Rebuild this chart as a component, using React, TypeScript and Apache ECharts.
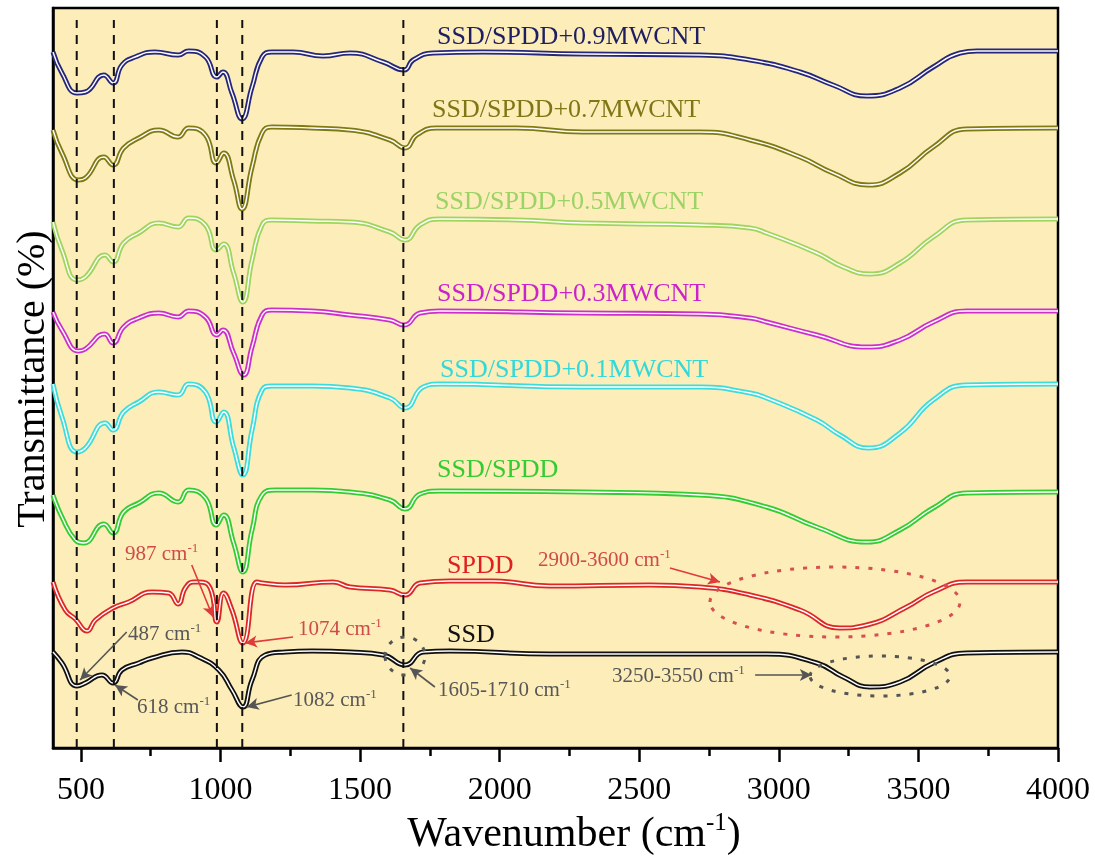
import React, { useEffect, useRef } from "react";
import * as echarts from "echarts";

const SERIF = "Liberation Serif";

// x axis ticks (wavenumber, cm-1)
const MAJOR_TICKS = [500, 1000, 1500, 2000, 2500, 3000, 3500, 4000];
const MINOR_TICKS = [750, 1250, 1750, 2250, 2750, 3250, 3750];

// vertical reference lines (cm-1)
const DASH_POSITIONS = [485, 618, 987, 1078, 1655];

// spectra: [wavenumber, offset transmittance (a.u.)]
const SSD_09: [number, number][] = [[400,696],[432,675],[486,655],[516,656],[582,673],[615,665],[647,683],[694,691],[765,696],[848,693],[886,697],[946,691],[987,671],[1008,676],[1041,655],[1077,629],[1113,661],[1149,691],[1184,696],[1260,696],[1367,692],[1464,695],[1583,686],[1658,678],[1690,688],[1761,695],[1940,696],[2298,694],[2718,693],[2897,688],[3076,676],[3194,663],[3315,652],[3434,660],[3553,681],[3649,695],[3709,697],[4000,697]];
const SSD_07: [number, number][] = [[400,618],[432,595],[492,568],[516,570],[582,591],[615,583],[653,600],[707,610],[779,618],[848,611],[886,620],[946,613],[985,585],[1011,595],[1047,568],[1077,539],[1113,581],[1149,615],[1184,621],[1328,620],[1464,618],[1607,608],[1661,600],[1703,613],[1774,620],[2061,620],[2298,616],[2718,616],[2897,608],[3076,591],[3194,575],[3320,563],[3434,575],[3553,601],[3673,619],[4000,620]];
const SSD_05: [number, number][] = [[400,526],[432,498],[486,468],[516,471],[587,493],[615,486],[653,505],[707,515],[779,525],[848,521],[886,530],[946,523],[985,498],[1011,504],[1047,475],[1080,446],[1113,488],[1149,523],[1184,528],[1328,527],[1464,526],[1607,516],[1661,508],[1715,523],[1786,529],[2061,528],[2298,525],[2718,523],[2897,520],[2956,515],[3136,495],[3231,481],[3326,474],[3434,485],[3553,511],[3673,528],[4000,529]];
const SSD_03: [number, number][] = [[400,436],[432,418],[492,397],[516,399],[585,414],[615,405],[653,421],[707,430],[779,435],[848,431],[886,437],[946,431],[987,413],[1008,418],[1047,395],[1083,373],[1113,401],[1149,433],[1184,438],[1328,437],[1464,433],[1607,428],[1658,423],[1715,435],[1786,437],[2298,435],[2718,434],[2897,430],[2956,426],[3136,413],[3315,401],[3434,408],[3553,426],[3673,437],[4000,437]];
const SSD_01: [number, number][] = [[400,364],[432,331],[486,296],[516,300],[587,325],[615,318],[653,336],[707,346],[779,356],[848,353],[886,364],[946,356],[985,326],[1011,336],[1047,301],[1080,273],[1113,318],[1149,358],[1184,362],[1328,362],[1464,360],[1607,350],[1661,340],[1726,361],[1786,364],[2298,361],[2718,361],[2897,355],[2956,350],[3136,328],[3219,313],[3320,300],[3434,315],[3553,348],[3673,363],[4000,364]];
const SSD_SPDD: [number, number][] = [[400,253],[432,231],[480,208],[510,205],[582,224],[615,215],[653,236],[707,245],[779,255],[848,246],[886,258],[946,250],[985,223],[1011,233],[1047,205],[1080,176],[1113,218],[1149,253],[1196,258],[1328,258],[1464,256],[1607,248],[1661,239],[1715,254],[1786,257],[2298,256],[2718,253],[2956,241],[3136,221],[3315,206],[3434,218],[3553,240],[3673,255],[4000,256]];
const SPDD: [number, number][] = [[400,166],[444,138],[480,129],[522,117],[552,128],[615,140],[671,146],[755,156],[814,155],[848,144],[874,160],[903,166],[922,166],[963,160],[987,126],[1011,155],[1041,138],[1080,105],[1130,166],[1149,165],[1232,163],[1403,166],[1464,161],[1607,158],[1661,153],[1715,165],[1822,167],[1976,167],[2180,162],[2538,163],[2718,161],[2897,153],[3076,138],[3219,120],[3315,123],[3458,141],[3553,156],[3673,166],[4000,166]];
const SSD: [number, number][] = [[400,96],[432,85],[486,62],[516,65],[575,73],[615,65],[647,78],[707,85],[755,90],[862,96],[922,91],[994,78],[1041,58],[1080,41],[1113,68],[1160,93],[1232,96],[1328,97],[1464,96],[1583,93],[1661,83],[1726,96],[1822,97],[2180,94],[2658,94],[2956,94],[3136,85],[3231,71],[3326,61],[3434,66],[3553,85],[3673,95],[4000,96]];

const CURVES = [
  { name: "SSD/SPDD+0.9MWCNT", data: SSD_09, color: "#26267a", text: "#1e1e62", lx: 437, ly: 35 },
  { name: "SSD/SPDD+0.7MWCNT", data: SSD_07, color: "#7f7a14", text: "#7d7715", lx: 432, ly: 108 },
  { name: "SSD/SPDD+0.5MWCNT", data: SSD_05, color: "#9fd45e", text: "#9cd266", lx: 435, ly: 200 },
  { name: "SSD/SPDD+0.3MWCNT", data: SSD_03, color: "#cc30cc", text: "#cc22cc", lx: 437, ly: 292 },
  { name: "SSD/SPDD+0.1MWCNT", data: SSD_01, color: "#3cdcdc", text: "#33d8d8", lx: 440, ly: 368 },
  { name: "SSD/SPDD", data: SSD_SPDD, color: "#33cc33", text: "#33cc33", lx: 437, ly: 468 },
  { name: "SPDD", data: SPDD, color: "#dd2626", text: "#e02020", lx: 447, ly: 564 },
  { name: "SSD", data: SSD, color: "#111111", text: "#111111", lx: 447, ly: 633 },
];

// annotation arrows [from, to] in data coordinates
const RED_ARROWS: [number, number][][] = [
  [[897, 183], [973, 131]],
  [[1260, 111], [1088, 105]],
  [[2610, 180], [2789, 166]],
];
const GRAY_ARROWS: [number, number][][] = [
  [[664, 116], [497, 68]],
  [[704, 48], [622, 63]],
  [[1255, 53], [1094, 41]],
  [[1768, 61], [1679, 80]],
  [[2915, 73], [3118, 73]],
];

const RED_NOTE = "#cf4a4a";
const GRAY_NOTE = "#575757";

const NOTES = [
  { t: "987 cm", x: 125, y: 553, c: RED_NOTE },
  { t: "1074 cm", x: 298, y: 628, c: RED_NOTE },
  { t: "2900-3600 cm", x: 538, y: 559, c: RED_NOTE },
  { t: "487 cm", x: 128, y: 633, c: GRAY_NOTE },
  { t: "618 cm", x: 137, y: 706, c: GRAY_NOTE },
  { t: "1082 cm", x: 293, y: 699, c: GRAY_NOTE },
  { t: "1605-1710 cm", x: 438, y: 689, c: GRAY_NOTE },
  { t: "3250-3550 cm", x: 612, y: 675, c: GRAY_NOTE },
];

function supText(x: number, y: number, main: string, tail: string, color: string, size: number, supSize: number, align = "left") {
  return {
    type: "text",
    x,
    y,
    z: 100,
    style: {
      text: `{b|${main}}{s|-1}` + (tail ? `{b|${tail}}` : ""),
      align,
      textAlign: align,
      verticalAlign: "middle",
      textVerticalAlign: "middle",
      fill: color,
      rich: {
        b: { fontSize: size, fontFamily: SERIF, fill: color, color, lineHeight: size * 1.1 },
        s: { fontSize: supSize, fontFamily: SERIF, fill: color, color, verticalAlign: "top", lineHeight: supSize * 1.1 },
      },
    },
  };
}

export default function App() {
  const ref = useRef<HTMLDivElement>(null);
  useEffect(() => {
    if (!ref.current) return;
    const chart = echarts.init(ref.current, undefined, { renderer: "svg" });

    const series: any[] = [];
    CURVES.forEach((c) => {
      series.push({
        type: "line",
        name: c.name,
        data: c.data,
        showSymbol: false,
        smooth: 0.5,
        lineStyle: { color: c.color, width: 5 },
        z: 3,
        silent: true,
      });
      series.push({
        type: "line",
        name: c.name + " inner",
        data: c.data,
        showSymbol: false,
        smooth: 0.5,
        lineStyle: { color: "#ffffff", width: 1.4 },
        z: 3,
        silent: true,
      });
    });
    DASH_POSITIONS.forEach((x) => {
      series.push({
        type: "line",
        data: [[x, 0], [x, 728]],
        showSymbol: false,
        lineStyle: { color: "#111", width: 2, type: [9, 7] },
        z: 4,
        silent: true,
      });
    });
    const arrowData = (arr: [number, number][][], color: string) =>
      arr.map(([a, b]) => [
        { coord: a, lineStyle: { color, width: 1.6, type: "solid" } },
        { coord: b },
      ]);
    series.push({
      type: "line",
      data: [[400, -10]],
      showSymbol: false,
      lineStyle: { opacity: 0 },
      z: 5,
      silent: true,
      markLine: {
        silent: true,
        animation: false,
        symbol: ["none", "arrow"],
        symbolSize: [9, 12],
        label: { show: false },
        data: [...arrowData(RED_ARROWS, "#e03a3a"), ...arrowData(GRAY_ARROWS, "#555555")],
      },
    });

    const graphics: any[] = [];
    CURVES.forEach((c) => {
      graphics.push({
        type: "text",
        x: c.lx,
        y: c.ly,
        z: 100,
        style: {
          text: c.name,
          fill: c.text,
          fontSize: 26,
          fontFamily: SERIF,
          align: "left",
          textAlign: "left",
          verticalAlign: "middle",
          textVerticalAlign: "middle",
        },
      });
    });
    NOTES.forEach((n) => graphics.push(supText(n.x, n.y, n.t, "", n.c, 21, 13)));
    graphics.push({
      type: "ellipse",
      z: 100,
      shape: { cx: 835, cy: 602, rx: 125, ry: 35 },
      style: { fill: "none", stroke: "#d65050", lineWidth: 3, lineDash: [4, 9] },
    });
    graphics.push({
      type: "ellipse",
      z: 100,
      shape: { cx: 880, cy: 676, rx: 70, ry: 20 },
      style: { fill: "none", stroke: "#555555", lineWidth: 3, lineDash: [4, 9] },
    });
    graphics.push({
      type: "ellipse",
      z: 100,
      shape: { cx: 405, cy: 656, rx: 20, ry: 19 },
      style: { fill: "none", stroke: "#555555", lineWidth: 3, lineDash: [4, 9] },
    });
    graphics.push(supText(574, 832, "Wavenumber (cm", ")", "#000", 42, 25, "center"));
    graphics.push({
      type: "text",
      x: 30,
      y: 379,
      rotation: Math.PI / 2,
      z: 100,
      style: {
        text: "Transmittance (%)",
        fill: "#000",
        fontSize: 40,
        fontFamily: SERIF,
        align: "center",
        textAlign: "center",
        verticalAlign: "middle",
        textVerticalAlign: "middle",
      },
    });
    const option: any = {
      animation: false,
      grid: {
        left: 53,
        right: 37,
        top: 8,
        bottom: 109,
        show: true,
        backgroundColor: "#fcedb9",
        borderColor: "#000",
        borderWidth: 2.5,
        containLabel: false,
      },
      xAxis: [
        {
          type: "value",
          min: 400,
          max: 4000,
          axisLine: { show: true, lineStyle: { color: "#000", width: 2.5 } },
          axisTick: { show: true, inside: false, length: 14, customValues: MAJOR_TICKS, lineStyle: { color: "#000", width: 2.5 } },
          axisLabel: {
            customValues: MAJOR_TICKS,
            margin: 24,
            fontSize: 32,
            fontFamily: SERIF,
            color: "#000",
            formatter: (v: number) => String(v),
          },
          splitLine: { show: false },
        },
        {
          type: "value",
          min: 400,
          max: 4000,
          position: "bottom",
          axisLine: { show: false },
          axisTick: { show: true, inside: false, length: 8, customValues: MINOR_TICKS, lineStyle: { color: "#000", width: 2.5 } },
          axisLabel: { show: false },
          splitLine: { show: false },
        },
      ],
      yAxis: {
        type: "value",
        min: 0,
        max: 740,
        axisLine: { show: true, lineStyle: { color: "#000", width: 2.5 } },
        axisTick: { show: false },
        axisLabel: { show: false },
        splitLine: { show: false },
      },
      series,
      graphic: graphics,
    };
    chart.setOption(option);
    return () => chart.dispose();
  }, []);
  return <div ref={ref} style={{ position: "fixed", left: 0, top: 0, width: 1095, height: 857 }} />;
}
